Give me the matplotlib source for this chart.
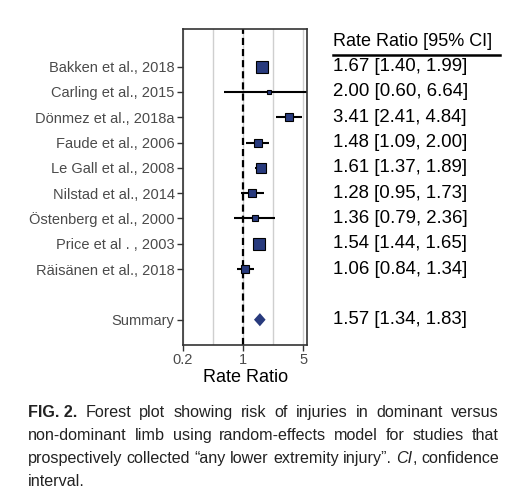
#!/usr/bin/env python3

import matplotlib
matplotlib.use('Agg')
from matplotlib import pyplot as plt
from matplotlib.transforms import blended_transform_factory
from matplotlib.lines import Line2D
import numpy as np

plt.rcParams['font.family'] = ['Liberation Sans', 'DejaVu Sans']

studies = ['Bakken et al., 2018', 'Carling et al., 2015', 'Dönmez et al., 2018a',
           'Faude et al., 2006', 'Le Gall et al., 2008', 'Nilstad et al., 2014',
           'Östenberg et al., 2000', 'Price et al . , 2003', 'Räisänen et al., 2018']
rr = [1.67, 2.00, 3.41, 1.48, 1.61, 1.28, 1.36, 1.54, 1.06]
ci_low = [1.40, 0.60, 2.41, 1.09, 1.37, 0.95, 0.79, 1.44, 0.84]
ci_high = [1.99, 6.64, 4.84, 2.00, 1.89, 1.73, 2.36, 1.65, 1.34]
# study weights (%)
weights = [14.0, 1.9, 9.3, 7.4, 11.5, 8.3, 4.6, 14.0, 9.3]

summary_rr, summary_low, summary_high = 1.57, 1.34, 1.83

caption = [
    [[('FIG. 2.', 'bold', 'normal')], [('Forest', 'normal', 'normal')], [('plot', 'normal', 'normal')],
     [('showing', 'normal', 'normal')], [('risk', 'normal', 'normal')], [('of', 'normal', 'normal')],
     [('injuries', 'normal', 'normal')], [('in', 'normal', 'normal')], [('dominant', 'normal', 'normal')],
     [('versus', 'normal', 'normal')]],
    [[(w, 'normal', 'normal')] for w in 'non-dominant limb using random-effects model for studies that'.split()],
    [[(w, 'normal', 'normal')] for w in 'prospectively collected “any lower extremity injury”.'.split()]
    + [[('CI', 'normal', 'italic'), (',', 'normal', 'normal')], [('confidence', 'normal', 'normal')]],
    [[('interval.', 'normal', 'normal')]],
]

W, H = 511, 499
NAVY = '#283a7d'
GREY = '#4a4a4a'


def fx(px):
    return px / W


def fy(py):
    return 1 - py / H


fig = plt.figure(figsize=(W / 100, H / 100), dpi=100)
ax = fig.add_axes([fx(183), fy(345), fx(307) - fx(183), fy(29) - fy(345)])

ax.set_xscale('log')
ax.set_xlim(0.2, 5.55)
ax.set_ylim(11.0, -1.49)

for g in [0.2, np.sqrt(0.2), 1, np.sqrt(5), 5]:
    ax.axvline(g, color='#cfcfcf', lw=1, zorder=0)
ax.axvline(1, color='black', ls=(0, (3.2, 1.8)), lw=1.6, zorder=1)

ys = np.arange(len(studies))
for y, est, lo, hi, w in zip(ys, rr, ci_low, ci_high, weights):
    ax.plot([lo, hi], [y, y], color='black', lw=1.5, zorder=2, solid_capstyle='butt')
    side = 2.95 * np.sqrt(w) * 0.72
    ax.plot([est], [y], marker='s', ms=side, mfc=NAVY, mec='black', mew=0.8, zorder=3)

ys_sum = 10
dh = 0.26
ax.fill([summary_low, summary_rr, summary_high, summary_rr],
        [ys_sum, ys_sum - dh, ys_sum, ys_sum + dh], color=NAVY, lw=0, zorder=3)

ax.set_yticks(list(ys) + [ys_sum])
ax.set_yticklabels(studies + ['Summary'])
ax.set_xticks([0.2, 1, 5])
ax.set_xticklabels(['0.2', '1', '5'])
ax.minorticks_off()
ax.tick_params(axis='both', length=4, width=1, color='#333333', labelcolor=GREY,
               labelsize=10.5, pad=2)
for s in ax.spines.values():
    s.set_color('#333333')
    s.set_linewidth(1.2)

fig.text(fx(246), fy(378), 'Rate Ratio', fontsize=13, ha='center', va='center')

# right-hand column
tr = blended_transform_factory(fig.transFigure, ax.transData)
ax.text(fx(333), -0.98, 'Rate Ratio [95% CI]', transform=tr, fontsize=13,
        ha='left', va='center', clip_on=False)
fig.add_artist(Line2D([fx(333), fx(500)], [fy(55), fy(55)], color='black', lw=1.8))
for y, est, lo, hi in zip(ys, rr, ci_low, ci_high):
    ax.text(fx(333), y, f'{est:.2f} [{lo:.2f}, {hi:.2f}]', transform=tr, fontsize=13.4,
            ha='left', va='center', clip_on=False)
ax.text(fx(333), ys_sum, f'{summary_rr:.2f} [{summary_low:.2f}, {summary_high:.2f}]',
        transform=tr, fontsize=13.4, ha='left', va='center', clip_on=False)

# justified caption, placed word by word
cap_size = 11.6
left, right = 28, 499
baselines = [417, 440, 463, 486]
renderer = fig.canvas.get_renderer()
for li, (line, base) in enumerate(zip(caption, baselines)):
    words = []
    for word in line:
        parts = []
        for txt, weight, style in word:
            t = fig.text(0, fy(base), txt, fontsize=cap_size, fontweight=weight,
                         fontstyle=style, color='#222222', va='baseline', ha='left')
            parts.append((t, t.get_window_extent(renderer).width))
        words.append(parts)
    widths = [sum(p[1] for p in parts) for parts in words]
    last = li == len(caption) - 1
    if last or len(words) == 1:
        gap = 3.2
    else:
        gap = (right - left - sum(widths)) / (len(words) - 1)
    x = left
    for parts, wd in zip(words, widths):
        xx = x
        for t, pw in parts:
            t.set_x(fx(xx))
            xx += pw
        x += wd + gap

fig.savefig('out.png', dpi=100)
